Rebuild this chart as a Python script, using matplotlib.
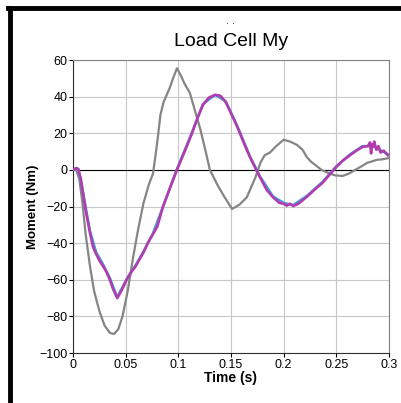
import matplotlib.pyplot as plt
from matplotlib.lines import Line2D

plt.rcParams['font.family'] = ['Liberation Sans', 'DejaVu Sans']

# Gray trace (time s, moment Nm)
gray_t = [0.0, 0.003, 0.006, 0.009, 0.012, 0.016, 0.020, 0.025, 0.030, 0.035, 0.039,
          0.043, 0.047, 0.052, 0.057, 0.062, 0.067, 0.072, 0.076, 0.080, 0.083, 0.086,
          0.089, 0.092, 0.095, 0.0987, 0.102, 0.106, 0.111, 0.116, 0.121, 0.126, 0.130,
          0.137, 0.143, 0.151, 0.158, 0.165, 0.173, 0.178, 0.182, 0.187, 0.193, 0.200,
          0.206, 0.2126, 0.218, 0.222, 0.226, 0.230, 0.236, 0.242, 0.249, 0.256, 0.262,
          0.268, 0.274, 0.279, 0.2886, 0.294, 0.300]
gray_v = [0, 0, -5, -18, -35, -52, -66, -77, -85, -89, -89.6,
          -87, -80, -66, -48, -32, -18, -8, -2, 15, 30, 37,
          41, 45, 50, 55.5, 52, 47, 42, 32, 22, 10, 0,
          -8, -14, -21.3, -19, -15, -4.4, 4, 8, 9.5, 13, 16.5,
          15.5, 13.7, 11, 7, 4.5, 2.7, 0, -1.6, -3, -3.3, -2,
          0, 2, 3.8, 5.5, 5.8, 6.5]

# Magenta trace
mag_t = [0.0, 0.003, 0.005, 0.0075, 0.0095, 0.012, 0.016, 0.019, 0.022, 0.0256, 0.029,
         0.032, 0.035, 0.038, 0.042, 0.046, 0.051, 0.055, 0.059, 0.063, 0.067, 0.071,
         0.076, 0.080, 0.0855, 0.092, 0.0987, 0.106, 0.113, 0.118, 0.1234, 0.129, 0.135,
         0.140, 0.145, 0.150, 0.156, 0.162, 0.168, 0.1775, 0.184, 0.190, 0.196, 0.200,
         0.203, 0.206, 0.209, 0.214, 0.222, 0.230, 0.237, 0.243, 0.250, 0.256, 0.263,
         0.269, 0.275, 0.280, 0.282, 0.283, 0.284, 0.285, 0.286, 0.288, 0.290, 0.292,
         0.295, 0.299]
mag_v = [0, 1, 0.5, -5, -12.6, -22, -34, -42, -46, -50, -53,
         -56, -60, -65, -70, -66, -60, -56, -53, -49, -45, -40,
         -35, -31, -20, -10, 0, 10, 20, 28, 35.5, 39.5, 41,
         40.5, 37, 31, 23.5, 15, 7, -4, -11, -15, -18, -18.5,
         -19.5, -18.5, -19.7, -18.5, -14.7, -10.5, -7, -3, 1.6, 5, 8,
         10.5, 12.6, 13, 15, 9, 14, 12.6, 15.5, 11, 13, 9.5,
         10.5, 8]

# Blue trace, sits just under the magenta one
blue_t = [0.0, 0.003, 0.005, 0.0095, 0.016, 0.022, 0.029, 0.035, 0.042, 0.051, 0.059,
          0.067, 0.076, 0.0855, 0.0987, 0.113, 0.1234, 0.135, 0.145, 0.156, 0.168,
          0.1775, 0.190, 0.200, 0.209, 0.222, 0.237, 0.250, 0.263, 0.275, 0.285, 0.299]
blue_v = [0, 1, 0.5, -12, -33, -45, -52, -59, -69.5, -59.5, -52.5,
          -44.5, -34.5, -20, 0.5, 20.5, 36, 41, 37.5, 24, 7.5,
          -3.5, -14.5, -18, -19.2, -14.2, -6.5, 2, 8.5, 13, 13, 8.5]

xticks = [0, 0.05, 0.1, 0.15, 0.2, 0.25, 0.3]
xtick_labels = ['0', '0.05', '0.1', '0.15', '0.2', '0.25', '0.3']
yticks = [-100, -80, -60, -40, -20, 0, 20, 40, 60]

fig = plt.figure(figsize=(4.01, 4.03), dpi=100)
ax = fig.add_axes([0.182, 0.124, 0.788, 0.727])

ax.plot(gray_t, gray_v, color='#858585', lw=1.6, zorder=3)
ax.plot(blue_t, blue_v, color='#4a9ad8', lw=1.8, zorder=4)
ax.plot(mag_t, mag_v, color='#b03cb0', lw=1.9, zorder=5)
ax.axhline(0, color='black', lw=0.8, zorder=2)

ax.set_xlim(0, 0.3)
ax.set_ylim(-100, 60)
ax.set_xticks(xticks)
ax.set_xticklabels(xtick_labels)
ax.set_yticks(yticks)
ax.grid(True, color='#c8c8c8', lw=0.8)
ax.set_axisbelow(True)
ax.tick_params(labelsize=9, length=3, pad=1)
for s in ['top', 'right']:
    ax.spines[s].set_color('#808080')
for s in ['left', 'bottom']:
    ax.spines[s].set_color('#303030')

ax.set_title('Load Cell My', fontsize=14, pad=10)
ax.set_xlabel('Time (s)', fontsize=10, fontweight='bold', labelpad=0)
ax.set_ylabel('Moment (Nm)', fontsize=9.5, fontweight='bold', labelpad=0)

fig.text(0.576, 0.94, '\u00b7 \u00b7', fontsize=7, ha='center', va='center')

# black frame round the panel (open to right and bottom)
fig.add_artist(Line2D([0.025, 0.025], [0.0, 0.980], color='black', lw=3.5))
fig.add_artist(Line2D([0.021, 1.0], [0.980, 0.980], color='black', lw=3.5))

fig.savefig('out.png', dpi=100)
